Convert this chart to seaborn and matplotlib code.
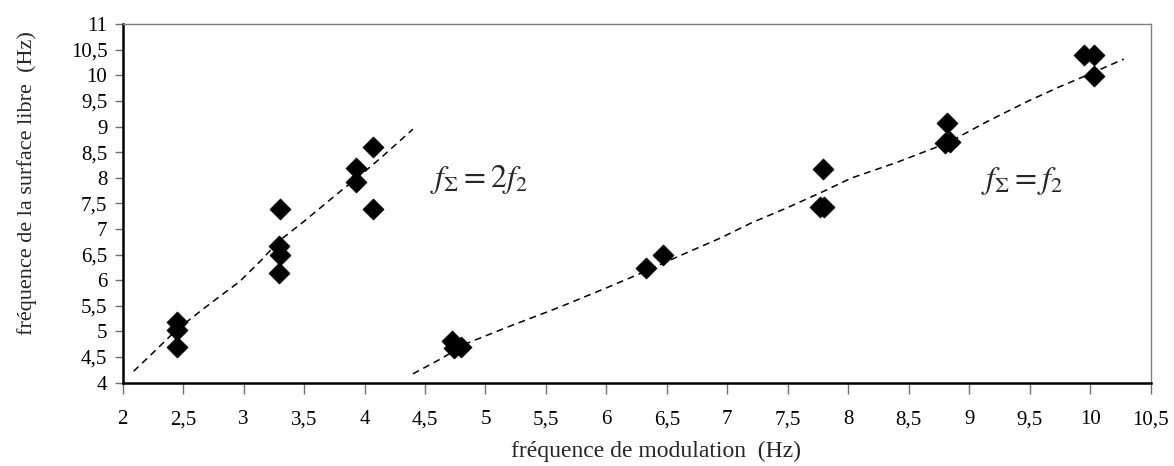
import pandas as pd
import seaborn as sns
import matplotlib.pyplot as plt
from matplotlib.ticker import FuncFormatter, MultipleLocator

# ---------- données ----------
# fréquence de modulation (Hz) / fréquence de la surface libre (Hz)
mod_freq = [2.45, 2.45, 2.45,
            3.30, 3.29, 3.30, 3.29,
            3.93, 3.93, 4.07, 4.07,
            4.72, 4.74, 4.80,
            6.33, 6.47,
            7.79, 7.77, 7.80,
            8.82, 8.80, 8.84,
            9.95, 10.03, 10.03]
surf_freq = [5.19, 5.02, 4.70,
             7.40, 6.66, 6.49, 6.15,
             8.19, 7.91, 8.61, 7.40,
             4.82, 4.67, 4.70,
             6.23, 6.50,
             8.18, 7.43, 7.43,
             9.08, 8.68, 8.70,
             10.40, 10.40, 9.99]

# courbes de tendance (pointillés)
fit2_x = [2.09, 2.25, 2.45, 2.70, 2.97, 3.15, 3.29, 3.50, 3.74, 3.99, 4.13, 4.40]
fit2_y = [4.22, 4.58, 5.04, 5.50, 5.98, 6.40, 6.76, 7.15, 7.62, 8.10, 8.38, 8.95]
fit1_x = [4.40, 4.62, 4.85, 5.20, 5.62, 6.00, 6.33, 6.60, 6.94, 7.20, 7.50, 7.80,
          8.02, 8.40, 8.82, 9.15, 9.48, 9.75, 9.95, 10.28]
fit1_y = [4.17, 4.45, 4.77, 5.10, 5.48, 5.85, 6.18, 6.47, 6.82, 7.12, 7.42, 7.74,
          7.99, 8.30, 8.68, 9.10, 9.49, 9.78, 9.98, 10.32]

# ---------- figure ----------
sns.set_theme(style="white")
plt.rcParams['font.family'] = ['Liberation Serif', 'DejaVu Serif']
plt.rcParams['mathtext.fontset'] = 'stix'

fig, ax = plt.subplots(figsize=(11.74, 4.66), dpi=100)
fig.subplots_adjust(left=0.1045, right=0.980, top=0.948, bottom=0.179)

dash = (0, (4.5, 3.2))
sns.lineplot(x=fit2_x, y=fit2_y, sort=False, ax=ax, color='black', lw=1.1, linestyle=dash)
sns.lineplot(x=fit1_x, y=fit1_y, sort=False, ax=ax, color='black', lw=1.1, linestyle=dash)

pts = pd.DataFrame({'mod': mod_freq, 'surf': surf_freq})
sns.scatterplot(data=pts, x='mod', y='surf', ax=ax, marker='D', s=115,
                color='black', edgecolor='black', linewidth=0.5, zorder=3)

ax.text(4.54, 7.96, r'$f_\mathit{\Sigma} = 2f_2$', fontsize=23, va='center', ha='left')
ax.text(9.10, 7.93, r'$f_\mathit{\Sigma} = f_2$', fontsize=23, va='center', ha='left')

ax.set_xlim(2, 10.5)
ax.set_ylim(4, 11)
ax.xaxis.set_major_locator(MultipleLocator(0.5))
ax.yaxis.set_major_locator(MultipleLocator(0.5))
comma = FuncFormatter(lambda v, _: f"{v:g}".replace('.', ','))
ax.xaxis.set_major_formatter(comma)
ax.yaxis.set_major_formatter(comma)

ax.tick_params(axis='x', direction='out', length=8, width=1, color='#707070',
               pad=12, labelsize=15, labelcolor='black', bottom=True)
ax.tick_params(axis='y', direction='out', length=6, width=1, color='#707070',
               pad=5, labelsize=15, labelcolor='black', left=True)

for side in ['left', 'bottom']:
    ax.spines[side].set_color('black')
    ax.spines[side].set_linewidth(1.8)
for side in ['top', 'right']:
    ax.spines[side].set_color('#808080')
    ax.spines[side].set_linewidth(1.0)

ax.set_xlabel('fréquence de modulation  (Hz)', fontsize=17)
ax.set_ylabel('fréquence de la surface libre  (Hz)', fontsize=16)
ax.xaxis.set_label_coords(0.519, -0.163)
ax.yaxis.set_label_coords(-0.0834, 0.557)

fig.savefig('out.png', dpi=100)
